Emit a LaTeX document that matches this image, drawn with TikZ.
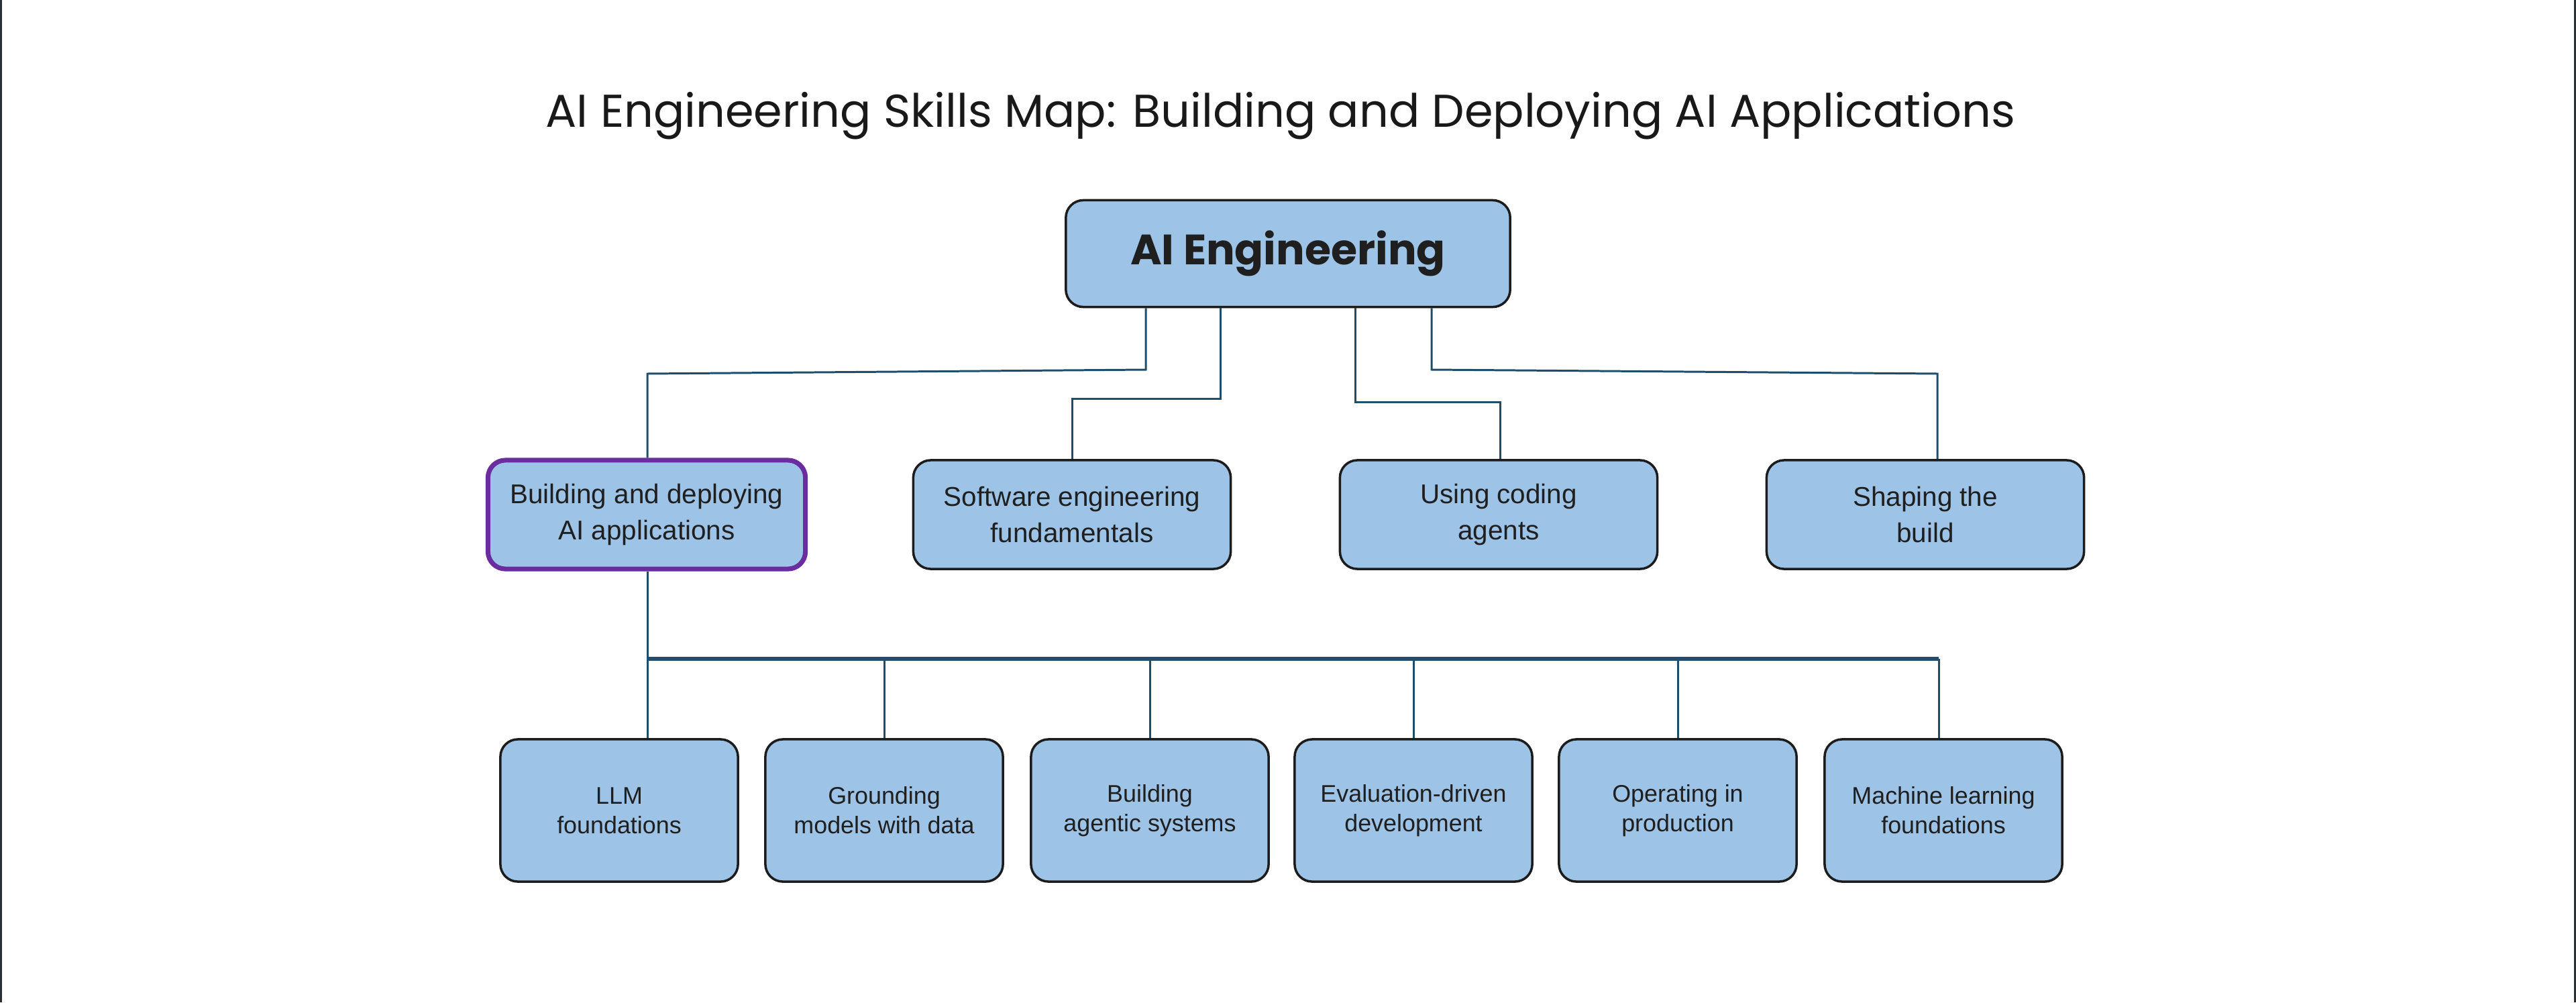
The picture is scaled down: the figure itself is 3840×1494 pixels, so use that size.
\documentclass[tikz,border=0pt]{standalone}
\usepackage{fontspec}
\setmainfont{Liberation Sans}
\newfontfamily\titlefont{Poppins}
\usepackage{tikz}
\definecolor{boxblue}{HTML}{9DC3E6}
\definecolor{linkblue}{HTML}{1F4E6B}
\definecolor{edgegray}{HTML}{1C1C1C}
\definecolor{mappurple}{HTML}{6A2C9E}
\definecolor{framegray}{HTML}{2B2F36}

\begin{document}
\begin{tikzpicture}[x=0.01cm,y=-0.01cm,
	box/.style={draw=edgegray,line width=1pt,fill=boxblue,rounded corners=0.26cm,align=center,text=black!88,inner sep=0pt},
	root/.style={box,minimum width=6.62cm,minimum height=1.59cm,font=\titlefont\bfseries\fontsize{18}{22}\selectfont},
	area/.style={box,minimum width=4.73cm,minimum height=1.62cm,font=\fontsize{11.5}{15.1}\selectfont},
	focus/.style={area,draw=mappurple,line width=2pt},
	skill/.style={box,minimum width=3.54cm,minimum height=2.12cm,font=\fontsize{10.2}{12.5}\selectfont},
	link/.style={draw=linkblue,line width=0.85pt},
	bus/.style={link,line width=1.8pt},
	frame/.style={draw=framegray,line width=0.8pt}]
			\useasboundingbox (0,0) rectangle (3840,1494);
			\draw[frame] (1.5,0) -- (1.5,1494);
			\draw[frame] (3838.5,0) -- (3838.5,1494);
			
			\node[font=\titlefont\fontsize{19.5}{24}\selectfont,text=black!90] (title) at (1909,173) {AI Engineering Skills Map: Building and Deploying AI Applications};
			
			\node[root] (eng) at (1920,378) {AI Engineering};
			
			\node[focus] (build) at (964,767) {Building and deploying\\AI applications};
			\node[area] (soft) at (1598,767) {Software engineering\\fundamentals};
			\node[area] (agents) at (2234,767) {Using coding\\agents};
			\node[area] (shape) at (2870,767) {Shaping the\\build};
			
			\node[skill] (llm) at (923,1208) {LLM\\foundations};
			\node[skill] (ground) at (1318,1208) {Grounding\\models with data};
			\node[skill] (agentic) at (1714,1208) {Building\\agentic systems};
			\node[skill] (evald) at (2107,1208) {Evaluation-driven\\development};
			\node[skill] (prod) at (2501,1208) {Operating in\\production};
			\node[skill] (mlf) at (2897,1208) {Machine learning\\foundations};
			
			\coordinate (k1) at (1708,551);
			\coordinate (e1) at (965,557);
			\coordinate (k2) at (1819,594);
			\coordinate (e2) at (1598,594);
			\coordinate (k3) at (2020,599);
			\coordinate (e3) at (2236,599);
			\coordinate (k4) at (2134,551);
			\coordinate (e4) at (2888,557);
			\draw[link] (eng.south -| k1) -- (k1) -- (e1) -- (build.north -| e1);
			\draw[link] (eng.south -| k2) -- (k2) -- (e2) -- (soft.north -| e2);
			\draw[link] (eng.south -| k3) -- (k3) -- (e3) -- (agents.north -| e3);
			\draw[link] (eng.south -| k4) -- (k4) -- (e4) -- (shape.north -| e4);
			
			\coordinate (trunk) at (965,982);
			\coordinate (busend) at (2890,982);
			\draw[link] (build.south -| trunk) -- (llm.north -| trunk);
			\draw[bus] (trunk) -- (busend);
			\draw[link] (ground.north |- trunk) -- (ground.north);
			\draw[link] (agentic.north |- trunk) -- (agentic.north);
			\draw[link] (evald.north |- trunk) -- (evald.north);
			\draw[link] (prod.north |- trunk) -- (prod.north);
			\draw[link] (busend) -- (mlf.north -| busend);
\end{tikzpicture}
\end{document}
